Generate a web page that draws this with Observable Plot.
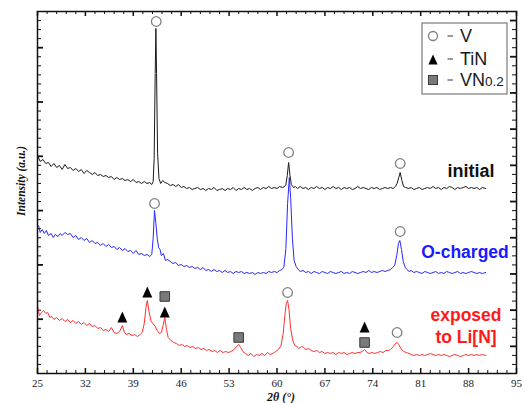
<!DOCTYPE html>
<html>
<head>
<meta charset="utf-8">
<script src="https://cdn.jsdelivr.net/npm/d3@7"></script>
<script src="https://cdn.jsdelivr.net/npm/@observablehq/plot@0.6"></script>
<style>
  html, body { margin: 0; padding: 0; background: #fff; }
  #chart { position: relative; width: 526px; height: 403px; }
</style>
</head>
<body>
<div id="chart"></div>
<script>
// ---------- data: [2θ (deg), intensity (a.u.)] ----------
const initial = [[25.0,218],[25.4,212],[25.8,214],[26.2,210],[26.6,211],[27.0,207],[27.4,210],[27.8,206],[28.2,208],[28.6,204],[29.0,209],[29.4,205],[29.8,206],[30.2,203],[30.6,205],[31.0,202],[31.4,204],[31.8,200],[32.2,203],[32.6,201],[33.0,199],[33.4,201],[33.8,198],[34.2,199],[34.6,197],[35.0,198],[35.4,196],[35.8,197],[36.2,194],[36.6,196],[37.0,194],[37.4,195],[37.8,193],[38.2,194],[38.6,192],[39.0,194],[39.4,191],[39.8,192],[40.2,190],[40.6,192],[41.0,190],[41.4,191],[41.7,189],[41.9,192],[42.05,215],[42.2,300],[42.3,345],[42.4,300],[42.55,220],[42.75,195],[43.0,190],[43.3,193],[43.6,191],[44.0,190],[44.4,188],[44.8,189],[45.2,187],[45.6,189],[46.0,186],[46.4,187],[46.8,185],[47.2,186],[47.6,184],[48.0,185],[48.4,186],[48.8,184],[49.2,185],[49.6,183],[50.0,185],[50.4,184],[50.8,186],[51.2,183],[51.6,184],[52.0,185],[52.4,183],[52.8,185],[53.2,184],[53.6,186],[54.0,183],[54.4,185],[54.8,184],[55.2,186],[55.6,184],[56.0,185],[56.4,183],[56.8,185],[57.2,186],[57.6,184],[58.0,186],[58.4,185],[58.8,187],[59.2,185],[59.6,186],[60.0,185],[60.4,187],[60.8,186],[61.1,187],[61.3,189],[61.5,198],[61.7,211],[61.9,198],[62.1,189],[62.4,186],[62.7,187],[63.0,185],[63.4,187],[63.8,185],[64.2,186],[64.6,184],[65.0,186],[65.4,185],[65.8,187],[66.2,185],[66.6,186],[67.0,184],[67.4,186],[67.8,185],[68.2,187],[68.6,185],[69.0,186],[69.4,184],[69.8,186],[70.2,185],[70.6,186],[71.0,184],[71.4,185],[71.8,187],[72.2,185],[72.6,186],[73.0,185],[73.4,184],[73.8,186],[74.2,185],[74.6,186],[75.0,184],[75.4,185],[75.8,186],[76.2,185],[76.6,186],[77.0,185],[77.3,187],[77.55,190],[77.8,196],[78.0,201],[78.25,193],[78.5,187],[78.8,186],[79.2,185],[79.6,186],[80.0,184],[80.4,185],[80.8,186],[81.2,184],[81.6,185],[82.0,186],[82.4,185],[82.8,187],[83.2,185],[83.6,186],[84.0,184],[84.4,186],[84.8,185],[85.2,187],[85.6,186],[86.0,184],[86.4,186],[86.8,185],[87.2,186],[87.6,187],[88.0,185],[88.4,186],[88.8,185],[89.2,186],[89.6,184],[90.0,186],[90.5,185]];

const oCharged = [[25.0,149],[25.2,147],[25.4,141],[25.7,144],[26.0,140],[26.3,143],[26.6,138],[27.0,140],[27.3,136],[27.6,139],[28.0,137],[28.3,140],[28.6,138],[29.0,141],[29.4,139],[29.8,140],[30.2,136],[30.6,138],[31.0,134],[31.4,136],[31.8,133],[32.2,135],[32.6,131],[33.0,133],[33.4,130],[33.8,131],[34.2,128],[34.6,130],[35.0,127],[35.4,129],[35.8,126],[36.2,127],[36.6,124],[37.0,126],[37.4,123],[37.8,125],[38.2,122],[38.6,123],[39.0,120],[39.4,123],[39.8,119],[40.2,120],[40.6,118],[41.0,119],[41.4,117],[41.7,119],[41.9,135],[42.1,163],[42.3,150],[42.5,135],[42.7,126],[42.9,124],[43.1,118],[43.4,120],[43.7,113],[44.0,114],[44.4,112],[44.8,110],[45.2,111],[45.6,108],[46.0,109],[46.4,107],[46.8,108],[47.2,106],[47.6,107],[48.0,105],[48.4,106],[48.8,104],[49.2,106],[49.6,103],[50.0,104],[50.4,102],[50.8,104],[51.2,102],[51.6,103],[52.0,101],[52.4,103],[52.8,101],[53.2,102],[53.6,100],[54.0,102],[54.4,101],[54.8,102],[55.2,100],[55.6,101],[56.0,100],[56.4,101],[56.8,99],[57.2,101],[57.6,100],[58.0,101],[58.4,100],[58.8,102],[59.2,101],[59.6,102],[60.0,101],[60.4,103],[60.7,104],[61.0,106],[61.3,125],[61.55,170],[61.8,196],[62.0,175],[62.25,135],[62.5,113],[62.8,107],[63.1,104],[63.4,102],[63.8,103],[64.2,101],[64.6,102],[65.0,100],[65.4,102],[65.8,101],[66.2,100],[66.6,102],[67.0,101],[67.4,100],[67.8,102],[68.2,101],[68.6,100],[69.0,101],[69.4,102],[69.8,100],[70.2,101],[70.6,100],[71.0,102],[71.4,101],[71.8,100],[72.2,101],[72.6,102],[73.0,101],[73.4,103],[73.8,101],[74.2,102],[74.6,101],[75.0,102],[75.4,103],[75.8,102],[76.2,103],[76.6,104],[76.9,106],[77.2,108],[77.5,118],[77.75,130],[77.95,133],[78.2,124],[78.45,112],[78.75,106],[79.0,104],[79.3,102],[79.6,103],[80.0,101],[80.4,102],[80.8,101],[81.2,100],[81.6,102],[82.0,101],[82.4,100],[82.8,101],[83.2,102],[83.6,100],[84.0,101],[84.4,100],[84.8,102],[85.2,101],[85.6,100],[86.0,101],[86.4,102],[86.8,100],[87.2,101],[87.6,100],[88.0,101],[88.4,102],[88.8,101],[89.2,100],[89.6,101],[90.0,100],[90.5,101]];

const exposed = [[25.0,68],[25.15,62],[25.3,58],[25.6,61],[25.9,63],[26.2,60],[26.5,61],[26.8,56],[27.1,57],[27.4,54],[27.8,56],[28.2,53],[28.6,55],[29.0,52],[29.4,54],[29.8,51],[30.2,53],[30.6,50],[31.0,52],[31.4,49],[31.8,51],[32.2,48],[32.6,50],[33.0,47],[33.4,48],[33.8,45],[34.2,46],[34.6,43],[35.0,44],[35.4,42],[35.8,46],[36.2,41],[36.6,40],[37.0,42],[37.4,48],[37.7,41],[38.0,39],[38.4,40],[38.8,38],[39.2,39],[39.6,37],[40.0,39],[40.3,41],[40.6,50],[40.85,66],[41.05,73],[41.3,62],[41.6,52],[41.9,50],[42.2,47],[42.5,43],[42.8,40],[43.1,41],[43.35,48],[43.6,56],[43.85,44],[44.1,36],[44.5,33],[44.9,31],[45.3,30],[45.7,28],[46.1,29],[46.5,27],[46.9,28],[47.3,26],[47.7,27],[48.1,25],[48.5,26],[48.9,24],[49.3,25],[49.7,23],[50.1,24],[50.5,22],[50.9,23],[51.3,21],[51.7,23],[52.1,21],[52.5,22],[52.9,21],[53.3,22],[53.7,24],[54.1,27],[54.4,29],[54.7,26],[55.0,22],[55.4,20],[55.8,18],[56.2,20],[56.6,17],[57.0,19],[57.4,18],[57.8,20],[58.2,18],[58.6,21],[59.0,19],[59.4,20],[59.8,22],[60.2,24],[60.6,28],[60.9,40],[61.15,58],[61.35,70],[61.55,73],[61.75,64],[62.0,45],[62.3,33],[62.6,28],[62.9,27],[63.2,25],[63.6,27],[63.9,26],[64.2,24],[64.6,25],[65.0,23],[65.4,22],[65.8,23],[66.2,21],[66.6,22],[67.0,20],[67.4,21],[67.8,20],[68.2,21],[68.6,19],[69.0,21],[69.4,20],[69.8,21],[70.2,19],[70.6,20],[71.0,21],[71.4,20],[71.8,21],[72.1,21],[72.45,22],[72.8,24],[73.15,21],[73.5,20],[73.9,21],[74.3,20],[74.7,21],[75.1,22],[75.5,21],[75.9,23],[76.3,23],[76.6,24],[77.0,27],[77.3,30],[77.55,31],[77.8,29],[78.1,25],[78.5,22],[78.9,21],[79.3,20],[79.6,19],[80.0,18],[80.4,19],[80.8,18],[81.2,19],[81.6,18],[82.0,19],[82.4,20],[82.8,19],[83.2,18],[83.6,19],[84.0,18],[84.4,19],[84.8,18],[85.2,17],[85.6,18],[86.0,19],[86.4,18],[86.8,17],[87.2,18],[87.6,19],[88.0,18],[88.4,19],[88.8,18],[89.2,19],[89.6,18],[90.0,19],[90.5,18]];

// phase markers [2θ, intensity]
const vMarkers = [[42.35,352],[61.7,221],[78.0,210],[42.1,170],[78.0,142],[61.55,81],[77.55,41]];
const tinMarkers = [[37.4,56],[41.05,81],[43.6,61],[72.8,46]];
const vn02Markers = [[43.6,77],[54.4,36],[72.8,31]];

// axis ticks and texts
const xMajorTicks = [25, 32, 39, 46, 53, 60, 67, 74, 81, 88, 95];
const seriesNames = ["initial", "O-charged", "exposed", "to Li[N]"];
const legendNames = ["V", "TiN", "VN", "0.2"];
const xLabel = "2θ (°)";
const yLabel = "Intensity (a.u.)";

// ---------- layout ----------
const W = 526, H = 403, mL = 37, mR = 10, mT = 11, mB = 30;
const yMax = H - mT - mB; // 362
const pxPerDeg = (W - mL - mR) / 70;
const xMinorTicks = d3.range(0, 51).map(i => 25 + i * 1.4);
const isMajorX = v => Math.abs(((v - 25) / 7) - Math.round((v - 25) / 7)) < 1e-6;
const yStep = yMax / 40;
const yTickIdx = d3.range(1, 40);

const tallTriangle = {
  draw(ctx, size) {
    const s = Math.sqrt(size);
    ctx.moveTo(0, -0.6 * s);
    ctx.lineTo(0.5 * s, 0.5 * s);
    ctx.lineTo(-0.5 * s, 0.5 * s);
    ctx.closePath();
  }
};

const X = d => d[0], Y = d => d[1];
const chart = Plot.plot({
  width: W, height: H,
  marginLeft: mL, marginRight: mR, marginTop: mT, marginBottom: mB,
  x: {domain: [25, 95]},
  y: {domain: [0, yMax]},
  style: {fontFamily: "Liberation Serif", fontSize: "11px", color: "#222", background: "white"},
  marks: [
    Plot.axisX({ticks: xMajorTicks, tickSize: 0, tickPadding: 6, tickFormat: d => String(d), label: null}),
    Plot.axisY({ticks: [], label: null}),
    // bottom & top ticks (inward)
    Plot.ruleX(xMinorTicks, {x: d => d, y1: 0, y2: d => isMajorX(d) ? 5 : 3, stroke: "#111", strokeWidth: d => isMajorX(d) ? 1.5 : 1}),
    Plot.ruleX(xMinorTicks, {x: d => d, y1: yMax, y2: d => yMax - (isMajorX(d) ? 5 : 3), stroke: "#111", strokeWidth: d => isMajorX(d) ? 1.5 : 1}),
    // left & right ticks (inward)
    Plot.ruleY(yTickIdx, {y: i => i * yStep, x1: 25, x2: i => 25 + (i % 6 === 0 ? 6 : 4) / pxPerDeg, stroke: "#111", strokeWidth: i => i % 6 === 0 ? 1.8 : 1}),
    Plot.ruleY(yTickIdx, {y: i => i * yStep, x1: 95, x2: i => 95 - (i % 4 === 3 ? 6 : 4) / pxPerDeg, stroke: "#111", strokeWidth: i => i % 4 === 3 ? 1.8 : 1}),
    Plot.line(initial, {x: X, y: Y, stroke: "#1a1a1a", strokeWidth: 1}),
    Plot.line(oCharged, {x: X, y: Y, stroke: "#2626ff", strokeWidth: 1}),
    Plot.line(exposed, {x: X, y: Y, stroke: "#ff3030", strokeWidth: 1}),
    Plot.dot(vMarkers, {x: X, y: Y, r: 4.8, stroke: "#808080", strokeWidth: 1.3, fill: "white"}),
    Plot.dot(tinMarkers, {x: X, y: Y, r: 5.6, symbol: tallTriangle, fill: "#000", stroke: "none"}),
    Plot.dot(vn02Markers, {x: X, y: Y, r: 5.4, symbol: "square", fill: "#7a7a7a", stroke: "#3a3a3a", strokeWidth: 1}),
    Plot.frame({stroke: "#111", strokeWidth: 1.5})
  ]
});
document.getElementById("chart").appendChild(chart);

// ---------- annotations ----------
const svg = d3.select(chart);
const sans = "Liberation Sans, Arial, sans-serif";
const serif = "Liberation Serif, Times New Roman, serif";

svg.append("text").text(xLabel)
  .attr("x", 281).attr("y", 401).attr("text-anchor", "middle")
  .attr("font-family", serif).attr("font-size", 12).attr("font-weight", "bold").attr("font-style", "italic").attr("fill", "#111");
svg.append("text").text(yLabel)
  .attr("transform", "translate(25,181) rotate(-90)").attr("text-anchor", "middle")
  .attr("font-family", serif).attr("font-size", 11.5).attr("font-weight", "bold").attr("font-style", "italic").attr("fill", "#111");

const lab = (t, x, y, fill, size) => svg.append("text").text(t)
  .attr("x", x).attr("y", y).attr("text-anchor", "middle")
  .attr("font-family", sans).attr("font-size", size).attr("font-weight", "bold").attr("fill", fill);
lab(seriesNames[0], 471, 177, "#111", 18);
lab(seriesNames[1], 465, 258, "#1a1aff", 17.5);
lab(seriesNames[2], 466, 321, "#ff1a1a", 17.5);
lab(seriesNames[3], 466, 343, "#ff1a1a", 17.5);

// legend
const lg = svg.append("g");
lg.append("rect").attr("x", 422).attr("y", 23).attr("width", 85).attr("height", 71)
  .attr("fill", "white").attr("stroke", "#7a7a7a").attr("stroke-width", 1.2);
lg.append("circle").attr("cx", 433).attr("cy", 36).attr("r", 4.5).attr("fill", "white").attr("stroke", "#808080").attr("stroke-width", 1.3);
lg.append("path").attr("transform", "translate(433,60)").attr("d", d3.symbol(tallTriangle, 85)()).attr("fill", "#000");
lg.append("rect").attr("x", 428.5).attr("y", 75.5).attr("width", 9).attr("height", 9).attr("fill", "#7a7a7a").attr("stroke", "#3a3a3a");
const rowsY = [42, 65, 86];
// dashes between symbol and name
rowsY.forEach(by => lg.append("line").attr("x1", 447.5).attr("x2", 453).attr("y1", by - 6).attr("y2", by - 6)
  .attr("stroke", "#808080").attr("stroke-width", 1.6));
const lt = (y) => lg.append("text").attr("x", 460).attr("y", y).attr("text-anchor", "start")
  .attr("font-family", sans).attr("font-size", 18).attr("fill", "#1a1a1a");
lt(rowsY[0]).text(legendNames[0]);
lt(rowsY[1]).text(legendNames[1]);
const vnText = lt(rowsY[2]);
vnText.append("tspan").text(legendNames[2]);
vnText.append("tspan").attr("font-size", 13.5).text(legendNames[3]);
</script>
</body>
</html>
